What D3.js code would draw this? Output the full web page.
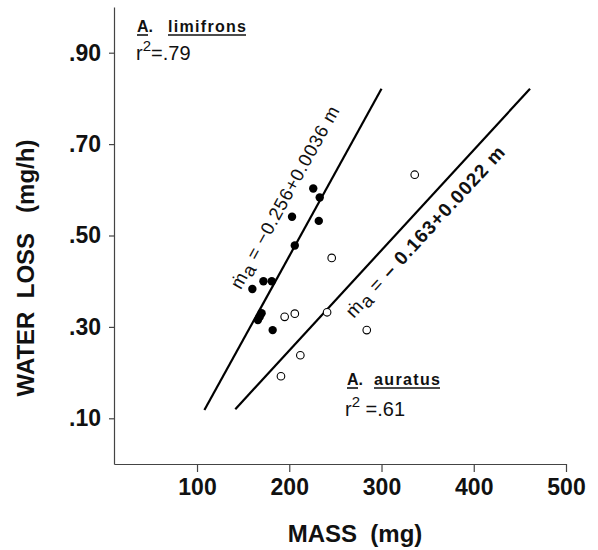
<!DOCTYPE html>
<html><head><meta charset="utf-8">
<script src="https://cdn.jsdelivr.net/npm/d3@7"></script>
<style>body{margin:0;background:#fff} svg{display:block}</style>
</head><body>
<svg id="c" width="598" height="550"></svg>
<script>
// ---- data ----
const xTicks = [100, 200, 300, 400, 500];
const xTickLabels = ["100", "200", "300", "400", "500"];
const yTicks = [0.1, 0.3, 0.5, 0.7, 0.9];
const yTickLabels = [".10", ".30", ".50", ".70", ".90"];
const limifronsMass = [226, 233, 203, 232, 206, 172, 181, 160, 170, 166, 168, 182];
const limifronsLoss = [0.603, 0.583, 0.541, 0.532, 0.478, 0.400, 0.400, 0.383, 0.330, 0.315, 0.322, 0.293];
const auratusMass = [336, 246, 195, 206, 241, 212, 191, 284];
const auratusLoss = [0.633, 0.451, 0.322, 0.329, 0.332, 0.238, 0.192, 0.293];
const limifronsLineMass = [108, 300];
const limifronsLineLoss = [0.118, 0.821];
const auratusLineMass = [141.5, 461];
const auratusLineLoss = [0.120, 0.821];

const FONT = "'Liberation Sans', Arial, Helvetica, sans-serif";
const svg = d3.select("#c");
const x = d3.scaleLinear().domain([10, 500]).range([114, 566]);
const y = d3.scaleLinear().domain([0, 1.0]).range([464, 7]);

// axes
const gx = svg.append("g").attr("transform", "translate(0,464)")
  .call(d3.axisBottom(x).tickValues(xTicks).tickFormat((d, i) => xTickLabels[i])
    .tickSize(8).tickSizeOuter(0).tickPadding(7));
const gy = svg.append("g").attr("transform", "translate(114,0)")
  .call(d3.axisLeft(y).tickValues(yTicks).tickFormat((d, i) => yTickLabels[i])
    .tickSize(5).tickSizeOuter(0).tickPadding(8));
[gx, gy].forEach(g => {
  g.selectAll("path,line").attr("stroke", "#444").attr("stroke-width", 1.2);
  g.selectAll("text").attr("font-family", FONT).attr("font-size", 23)
    .attr("font-weight", "bold").attr("fill", "#111");
});

// axis titles
svg.append("text").attr("x", 355).attr("y", 542).attr("text-anchor", "middle")
  .attr("font-family", FONT).attr("font-size", 24).attr("font-weight", "bold").attr("fill", "#111")
  .attr("xml:space", "preserve").text("MASS  (mg)");
svg.append("text").attr("transform", "translate(34,268) rotate(-90)").attr("text-anchor", "middle")
  .attr("font-family", FONT).attr("font-size", 24).attr("font-weight", "bold").attr("fill", "#111")
  .attr("xml:space", "preserve").text("WATER  LOSS   (mg/h)");

// regression lines
function drawLine(ms, vs) {
  svg.append("line").attr("x1", x(ms[0])).attr("y1", y(vs[0]))
    .attr("x2", x(ms[1])).attr("y2", y(vs[1]))
    .attr("stroke", "#000").attr("stroke-width", 2.2);
}
drawLine(limifronsLineMass, limifronsLineLoss);
drawLine(auratusLineMass, auratusLineLoss);

// points
svg.append("g").selectAll("circle").data(auratusMass).join("circle")
  .attr("cx", d => x(d)).attr("cy", (d, i) => y(auratusLoss[i])).attr("r", 3.8)
  .attr("fill", "#fff").attr("stroke", "#000").attr("stroke-width", 1.1);
svg.append("g").selectAll("circle").data(limifronsMass).join("circle")
  .attr("cx", d => x(d)).attr("cy", (d, i) => y(limifronsLoss[i])).attr("r", 4.2)
  .attr("fill", "#000");

// equation labels along lines
function eqLabel(ms, vs, atMass, offset, parts, spacing, size) {
  const v = vs[0] + (atMass - ms[0]) * (vs[1] - vs[0]) / (ms[1] - ms[0]);
  const ang = Math.atan2(y(vs[1]) - y(vs[0]), x(ms[1]) - x(ms[0])) * 180 / Math.PI;
  const t = svg.append("text")
    .attr("transform", `translate(${x(atMass)},${y(v)}) rotate(${ang})`)
    .attr("y", offset).attr("text-anchor", "middle")
    .attr("font-family", FONT).attr("font-size", size).attr("fill", "#111")
    .attr("letter-spacing", spacing).attr("xml:space", "preserve");
  parts.forEach(p => {
    const s = t.append("tspan").text(p.t);
    if (p.dy) s.attr("dy", p.dy);
    if (p.b) s.attr("font-weight", "bold");
  });
}
eqLabel(limifronsLineMass, limifronsLineLoss, 226, -26,
  [{t: "\u1E41"}, {t: "a", dy: 4}, {t: " = \u22120.256+0.0036 m", dy: -4}], 0.7, 18.5);
eqLabel(auratusLineMass, auratusLineLoss, 332, 26,
  [{t: "\u1E41"}, {t: "a", dy: 4}, {t: " = ", dy: -4}, {t: "\u2013 0.163+0.0022 m", b: true}], 1.1, 19);

// species labels
function species(xA, xName, yBase, nameLen, name, r2x, r2y, r2text) {
  const g = svg.append("g").attr("font-family", FONT).attr("fill", "#111");
  g.append("text").attr("x", xA).attr("y", yBase).attr("font-size", 16).attr("font-weight", "bold").text("A.");
  g.append("text").attr("x", xName).attr("y", yBase).attr("font-size", 16).attr("font-weight", "bold")
    .attr("textLength", nameLen).attr("lengthAdjust", "spacing").text(name);
  g.append("line").attr("x1", xA).attr("x2", xA + 11).attr("y1", yBase + 3).attr("y2", yBase + 3)
    .attr("stroke", "#111").attr("stroke-width", 1.6);
  g.append("line").attr("x1", xName).attr("x2", xName + nameLen).attr("y1", yBase + 3).attr("y2", yBase + 3)
    .attr("stroke", "#111").attr("stroke-width", 1.6);
  const t = g.append("text").attr("x", r2x).attr("y", r2y).attr("font-size", 20);
  t.append("tspan").text("r");
  t.append("tspan").attr("dy", -9).attr("font-size", 15).text("2");
  t.append("tspan").attr("dy", 9).text(r2text);
}
species(137, 168, 32, 78, "limifrons", 136, 60, "=.79");
species(347, 374, 385, 66, "auratus", 345, 416, " =.61");
</script>
</body></html>
